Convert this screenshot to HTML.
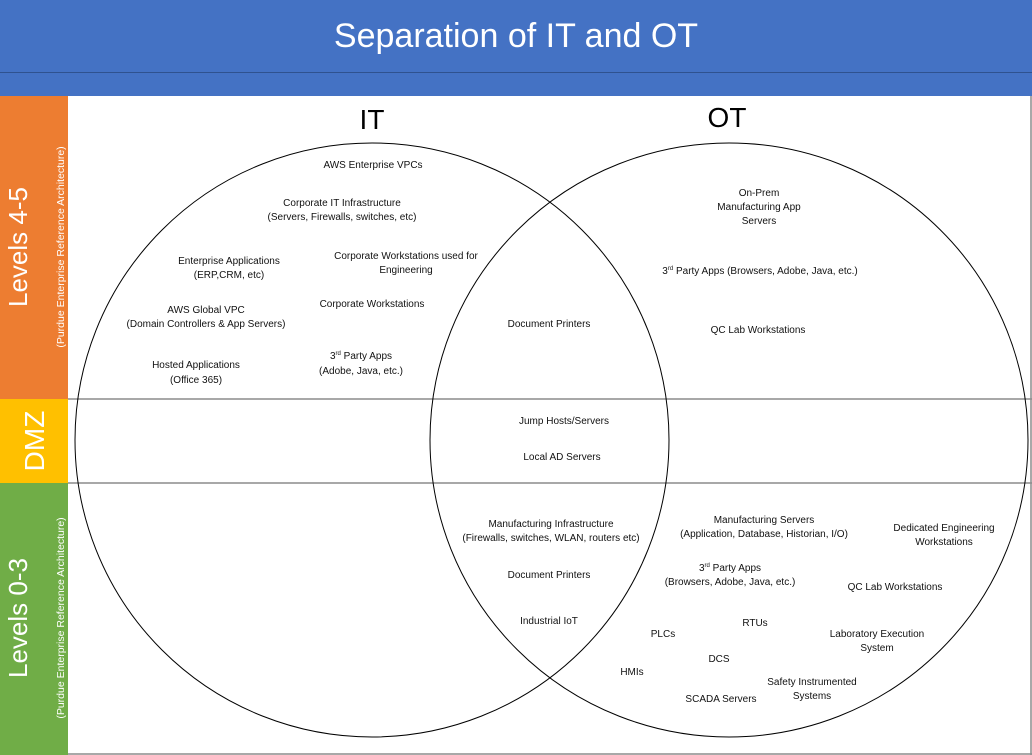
<!DOCTYPE html>
<html><head><meta charset="utf-8"><style>
html,body{margin:0;padding:0;background:#fff;}
svg{display:block;font-family:"Liberation Sans",sans-serif;}
</style></head><body>
<svg width="1032" height="755" viewBox="0 0 1032 755" xmlns="http://www.w3.org/2000/svg">
<rect x="0" y="0" width="1032" height="96" fill="#4472c4"/>
<line x1="0" y1="72.5" x2="1032" y2="72.5" stroke="#2f528f" stroke-width="1"/>
<text x="516" y="47" font-size="34" fill="#fff" text-anchor="middle">Separation of IT and OT</text>
<rect x="0" y="96" width="68" height="303" fill="#ed7d31"/>
<rect x="0" y="399" width="68" height="84" fill="#ffc000"/>
<rect x="0" y="483" width="68" height="272" fill="#70ad47"/>
<line x1="68" y1="399" x2="1032" y2="399" stroke="#8c8c8c" stroke-width="1.5"/>
<line x1="68" y1="483" x2="1032" y2="483" stroke="#8c8c8c" stroke-width="1.5"/>
<line x1="68" y1="754" x2="1032" y2="754" stroke="#8c8c8c" stroke-width="1.5"/>
<line x1="1031" y1="96" x2="1031" y2="755" stroke="#8c8c8c" stroke-width="1.5"/>
<g fill="#fff" text-anchor="middle">
<text transform="translate(27,247) rotate(-90)" font-size="26">Levels 4-5</text>
<text transform="translate(64,247) rotate(-90)" font-size="10.5">(Purdue Enterprise Reference Architecture)</text>
<text transform="translate(44,441) rotate(-90)" font-size="28">DMZ</text>
<text transform="translate(27,618) rotate(-90)" font-size="26">Levels 0-3</text>
<text transform="translate(64,618) rotate(-90)" font-size="10.5">(Purdue Enterprise Reference Architecture)</text>
</g>
<ellipse cx="372" cy="440" rx="297" ry="297" fill="none" stroke="#000" stroke-width="1"/>
<ellipse cx="729" cy="440" rx="299" ry="297" fill="none" stroke="#000" stroke-width="1"/>
<text x="372" y="129" font-size="28" text-anchor="middle">IT</text>
<text x="727" y="127" font-size="28" text-anchor="middle">OT</text>
<g font-size="10" text-anchor="middle" fill="#111">
<text x="373" y="168">AWS Enterprise VPCs</text>
<text x="342" y="206">Corporate IT Infrastructure</text>
<text x="342" y="220">(Servers, Firewalls, switches, etc)</text>
<text x="229" y="264">Enterprise Applications</text>
<text x="229" y="278">(ERP,CRM, etc)</text>
<text x="406" y="259">Corporate Workstations used for</text>
<text x="406" y="273">Engineering</text>
<text x="372" y="307">Corporate Workstations</text>
<text x="206" y="313">AWS Global VPC</text>
<text x="206" y="327">(Domain Controllers &amp; App Servers)</text>
<text x="361" y="359">3<tspan font-size="6" dy="-4">rd</tspan><tspan dy="4"> Party Apps</tspan></text>
<text x="361" y="374">(Adobe, Java, etc.)</text>
<text x="196" y="368">Hosted Applications</text>
<text x="196" y="383">(Office 365)</text>
<text x="549" y="327">Document Printers</text>
<text x="759" y="196">On-Prem</text>
<text x="759" y="210">Manufacturing App</text>
<text x="759" y="224">Servers</text>
<text x="760" y="274">3<tspan font-size="6" dy="-4">rd</tspan><tspan dy="4"> Party Apps (Browsers, Adobe, Java, etc.)</tspan></text>
<text x="758" y="333">QC Lab Workstations</text>
<text x="564" y="424">Jump Hosts/Servers</text>
<text x="562" y="460">Local AD Servers</text>
<text x="551" y="527">Manufacturing Infrastructure</text>
<text x="551" y="541">(Firewalls, switches, WLAN, routers etc)</text>
<text x="549" y="578">Document Printers</text>
<text x="549" y="624">Industrial IoT</text>
<text x="764" y="523">Manufacturing Servers</text>
<text x="764" y="537">(Application, Database, Historian, I/O)</text>
<text x="944" y="531">Dedicated Engineering</text>
<text x="944" y="545">Workstations</text>
<text x="730" y="571">3<tspan font-size="6" dy="-4">rd</tspan><tspan dy="4"> Party Apps</tspan></text>
<text x="730" y="585">(Browsers, Adobe, Java, etc.)</text>
<text x="895" y="590">QC Lab Workstations</text>
<text x="755" y="626">RTUs</text>
<text x="663" y="637">PLCs</text>
<text x="877" y="637">Laboratory Execution</text>
<text x="877" y="651">System</text>
<text x="719" y="662">DCS</text>
<text x="632" y="675">HMIs</text>
<text x="812" y="685">Safety Instrumented</text>
<text x="812" y="699">Systems</text>
<text x="721" y="702">SCADA Servers</text>
</g>
</svg>
</body></html>
